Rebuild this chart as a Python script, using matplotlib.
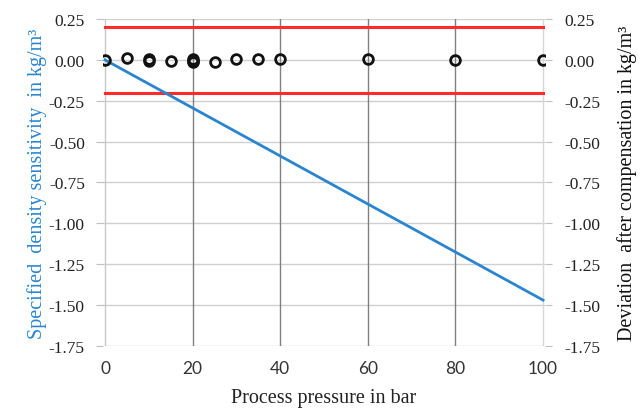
import matplotlib
matplotlib.use("Agg")
import matplotlib.pyplot as plt
import numpy as np

# Data
sens_pressure = [0, 100]
sens_density = [0.0, -1.47]
dev_pressure = [0, 5, 10, 10, 15, 20, 20, 20, 25, 30, 35, 40, 60, 80, 100]
dev_values = [0.0, 0.01, 0.008, -0.005, -0.005, 0.005, -0.008, -0.015, -0.01, 0.005, 0.005, 0.005, 0.005, 0.0, 0.0]
limit_upper = 0.2
limit_lower = -0.2
x_ticks = [0, 20, 40, 60, 80, 100]
y_ticks = [0.25, 0.0, -0.25, -0.5, -0.75, -1.0, -1.25, -1.5, -1.75]

fig = plt.figure(figsize=(6.43, 4.10), dpi=100)
ax = fig.add_axes([0.160, 0.154, 0.688, 0.797])

serif = "Liberation Serif"
sans = "Lato"
blue = "#2a85d0"

ax.set_xlim(-0.5, 100.5)
ax.set_ylim(-1.75, 0.25)
ax.set_xticks(x_ticks)
ax.set_yticks(y_ticks)
ax.set_yticklabels([f"{v:.2f}" for v in y_ticks], fontfamily=serif, fontsize=12.5, color="#222222")
ax.set_xticklabels([str(v) for v in x_ticks], fontfamily=sans, fontsize=12.5, color="#333333")

for y in y_ticks:
    ax.axhline(y, color="#d0d0d0", lw=1.0, zorder=0)
for x in [20, 40, 60, 80]:
    ax.axvline(x, color="#808080", lw=1.0, zorder=0)
ax.axvline(0, color="#c8c8c8", lw=1.0, zorder=0)
ax.axvline(100, color="#d8d8d8", lw=1.0, zorder=0)

for s in ax.spines.values():
    s.set_visible(False)
ax.tick_params(axis="y", length=5, color="#c0c0c0", pad=8)
ax.tick_params(axis="x", length=0, pad=10)

ax.axhline(limit_upper, color="#ff2a2a", lw=2.2, xmin=0.005, xmax=0.995, zorder=2)
ax.axhline(limit_lower, color="#ff2a2a", lw=2.2, xmin=0.005, xmax=0.995, zorder=2)

ax.plot(sens_pressure, sens_density, color=blue, lw=2.0, zorder=3)

ax2 = ax.twinx()
ax2.set_ylim(-1.75, 0.25)
ax2.set_yticks(y_ticks)
ax2.set_yticklabels([f"{v:.2f}" for v in y_ticks], fontfamily=serif, fontsize=12.5, color="#222222")
ax2.tick_params(axis="y", length=5, color="#c0c0c0", pad=9)
for s in ax2.spines.values():
    s.set_visible(False)
ax2.plot(dev_pressure, dev_values, linestyle="none", marker="o", markersize=7,
         markerfacecolor="none", markeredgecolor="#111111", markeredgewidth=2.0, zorder=4)

ax.set_xlabel("Process pressure in bar", fontfamily=serif, fontsize=14.5, labelpad=9, color="#222222")
ax.set_ylabel("Specified  density sensitivity  in kg/m³", fontfamily=serif, fontsize=14.5, color=blue, labelpad=1)
ax2.set_ylabel("Deviation  after compensation in kg/m³", fontfamily=serif, fontsize=14.5, color="#111111", labelpad=12)

fig.savefig("out.png", dpi=100)
